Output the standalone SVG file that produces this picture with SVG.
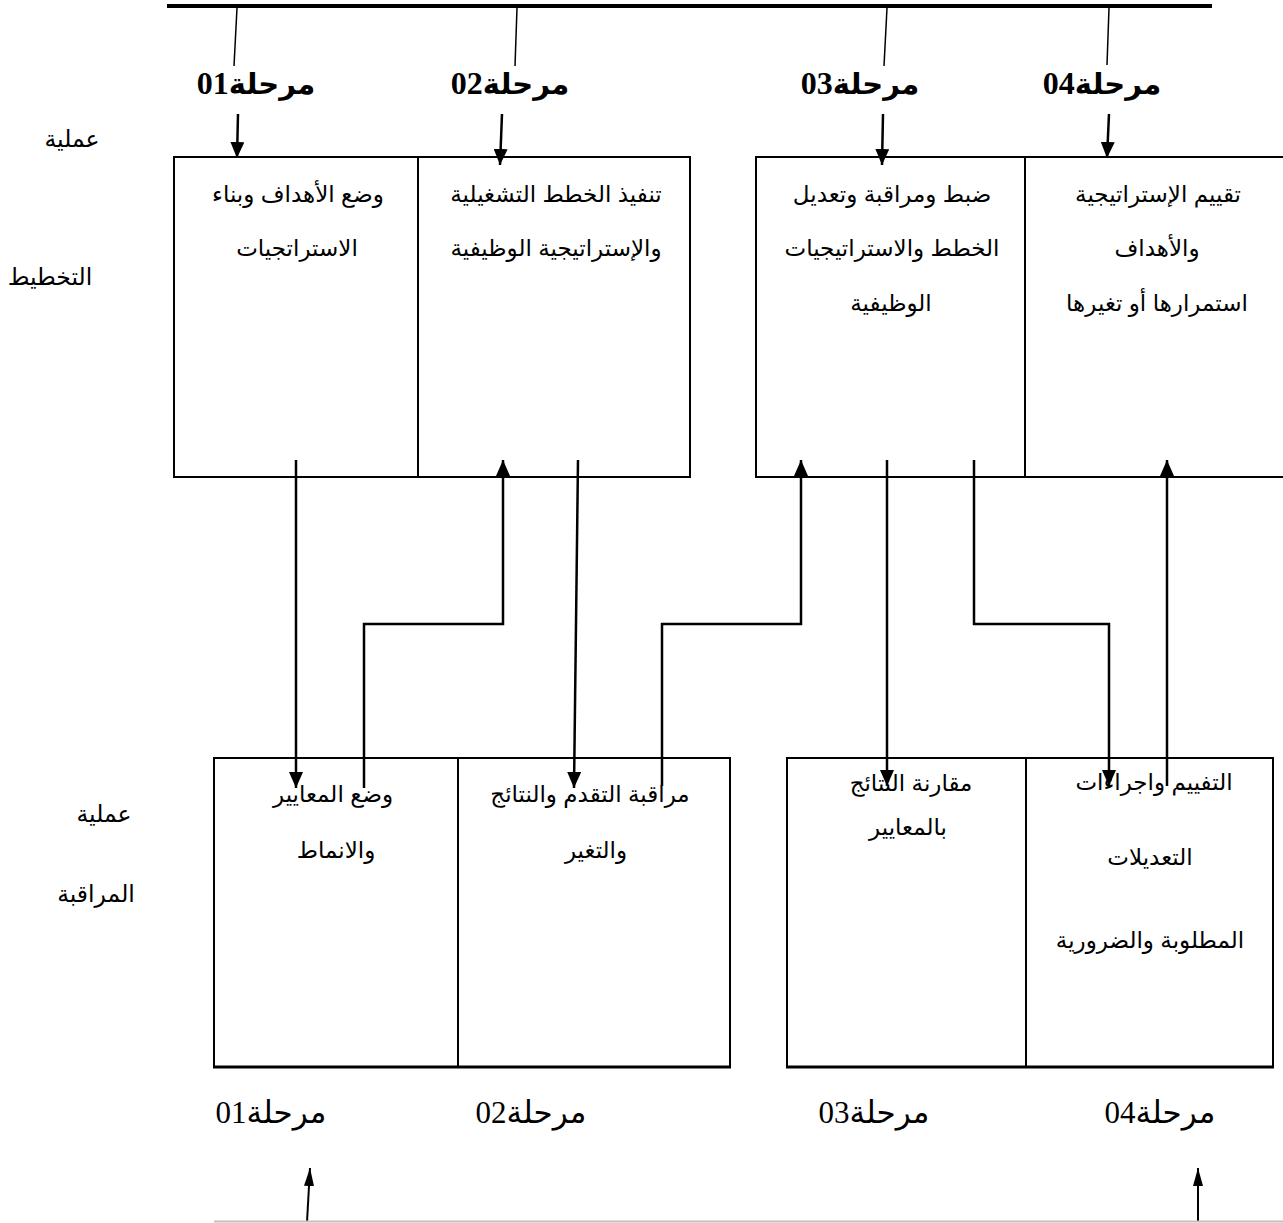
<svg xmlns="http://www.w3.org/2000/svg" width="1283" height="1223" viewBox="0 0 1283 1223">
  <defs>
    <marker id="ah" markerUnits="userSpaceOnUse" markerWidth="16" markerHeight="14" viewBox="0 0 16 14" refX="16" refY="7" orient="auto">
      <path d="M0,0 L16,7 L0,14 z" fill="#000"/>
    </marker>
    <marker id="ahs" markerUnits="userSpaceOnUse" markerWidth="18" markerHeight="10" viewBox="0 0 18 10" refX="18" refY="5" orient="auto">
      <path d="M0,0 L18,5 L0,10 z" fill="#000"/>
    </marker>
    <style>
      .box{fill:#fff;stroke:#000;stroke-width:2}
      .base{fill:none;stroke:#000;stroke-width:3}
      .wire{fill:none;stroke:#000;stroke-width:2.5}
      .tick{fill:none;stroke:#000;stroke-width:1.5}
      .t{font-family:"Liberation Sans","DejaVu Sans",sans-serif;font-size:23px;text-anchor:middle;fill:#000}
      .side{font-family:"Liberation Serif","DejaVu Sans",serif;font-size:23.5px;text-anchor:middle;fill:#000}
      .stage{font-family:"Liberation Serif","DejaVu Sans",serif;font-size:32px;font-weight:bold;text-anchor:middle;fill:#000}
      .stage .ar{font-size:29px}
      .stage2{font-family:"Liberation Serif","DejaVu Sans",serif;font-size:31px;text-anchor:middle;fill:#000}
    </style>
  </defs>

  <!-- top bar and stage ticks -->
  <g id="top-bar">
    <line x1="167" y1="6" x2="1212" y2="6" stroke="#000" stroke-width="4"/>
    <line class="tick" x1="237" y1="8" x2="234" y2="66"/>
    <line class="tick" x1="517" y1="8" x2="515" y2="66"/>
    <line class="tick" x1="887" y1="8" x2="884" y2="66"/>
    <line class="tick" x1="1109" y1="8" x2="1107" y2="65"/>
  </g>

  <!-- stage labels, top -->
  <g id="stage-labels-top">
    <text class="stage" x="256" y="94"><tspan class="ar">مرحلة</tspan>01</text>
    <text class="stage" x="510" y="94"><tspan class="ar">مرحلة</tspan>02</text>
    <text class="stage" x="860" y="94"><tspan class="ar">مرحلة</tspan>03</text>
    <text class="stage" x="1102" y="94"><tspan class="ar">مرحلة</tspan>04</text>
  </g>

  <!-- side captions -->
  <g id="caption-planning">
    <text class="side" x="72" y="147">عملية</text>
    <text class="side" x="50" y="285">التخطيط</text>
  </g>
  <g id="caption-control">
    <text class="side" x="104" y="822">عملية</text>
    <text class="side" x="96" y="902">المراقبة</text>
  </g>

  <!-- planning boxes -->
  <g id="plan-01">
    <rect class="box" x="174" y="157" width="244" height="320"/>
    <text class="t" x="298" y="202">وضع الأهداف وبناء</text>
    <text class="t" x="297" y="256">الاستراتجيات</text>
  </g>
  <g id="plan-02">
    <rect class="box" x="418" y="157" width="272" height="320"/>
    <text class="t" x="556" y="202">تنفيذ الخطط التشغيلية</text>
    <text class="t" x="556" y="256">والإستراتيجية الوظيفية</text>
  </g>
  <g id="plan-03">
    <rect class="box" x="756" y="157" width="269" height="320"/>
    <text class="t" x="892" y="202">ضبط ومراقبة وتعديل</text>
    <text class="t" x="892" y="256">الخطط والاستراتيجيات</text>
    <text class="t" x="891" y="311">الوظيفية</text>
  </g>
  <g id="plan-04">
    <rect class="box" x="1025" y="157" width="270" height="320"/>
    <text class="t" x="1158" y="202">تقييم الإستراتيجية</text>
    <text class="t" x="1157" y="256">والأهداف</text>
    <text class="t" x="1157" y="311">استمرارها أو تغيرها</text>
  </g>

  <!-- control boxes -->
  <g id="ctrl-01">
    <rect class="box" x="214" y="758" width="244" height="309"/>
    <text class="t" x="333" y="802">وضع المعايير</text>
    <text class="t" x="336" y="858">والانماط</text>
  </g>
  <g id="ctrl-02">
    <rect class="box" x="458" y="758" width="272" height="309"/>
    <text class="t" x="590" y="802">مراقبة التقدم والنتائج</text>
    <text class="t" x="596" y="858">والتغير</text>
  </g>
  <g id="ctrl-03">
    <rect class="box" x="787" y="758" width="239" height="309"/>
    <text class="t" x="911" y="791">مقارنة النتائج</text>
    <text class="t" x="908" y="835">بالمعايير</text>
  </g>
  <g id="ctrl-04">
    <rect class="box" x="1026" y="758" width="247" height="309"/>
    <text class="t" x="1154" y="790">التفييم واجراءات</text>
    <text class="t" x="1150" y="865">التعديلات</text>
    <text class="t" x="1150" y="948">المطلوبة والضرورية</text>
  </g>
  <!-- heavier base edge under the control boxes -->
  <line class="base" x1="213" y1="1067" x2="731" y2="1067"/>
  <line class="base" x1="786" y1="1067" x2="1274" y2="1067"/>

  <!-- stage labels, bottom -->
  <g id="stage-labels-bottom">
    <text class="stage2" x="271" y="1123">مرحلة01</text>
    <text class="stage2" x="531" y="1123">مرحلة02</text>
    <text class="stage2" x="874" y="1123">مرحلة03</text>
    <text class="stage2" x="1160" y="1123">مرحلة04</text>
  </g>

  <!-- connectors -->
  <g id="connectors">
    <line class="wire" x1="238" y1="114" x2="237" y2="158" marker-end="url(#ah)"/>
    <line class="wire" x1="502" y1="114" x2="500" y2="165" marker-end="url(#ah)"/>
    <line class="wire" x1="883" y1="114" x2="882" y2="165" marker-end="url(#ah)"/>
    <line class="wire" x1="1109" y1="114" x2="1107" y2="158" marker-end="url(#ah)"/>

    <path class="wire" d="M296,460 V788" marker-end="url(#ah)"/>
    <path class="wire" d="M364,788 V624 H503 V460" marker-end="url(#ah)"/>
    <path class="wire" d="M578,460 L574,788" marker-end="url(#ah)"/>
    <path class="wire" d="M662,786 V624 H801 V460" marker-end="url(#ah)"/>
    <path class="wire" d="M887,460 V786" marker-end="url(#ah)"/>
    <path class="wire" d="M974,460 V624 H1109 V786" marker-end="url(#ah)"/>
    <path class="wire" d="M1167,786 V460" marker-end="url(#ah)"/>

    <line x1="307" y1="1222" x2="310" y2="1168" stroke="#000" stroke-width="2" marker-end="url(#ahs)"/>
    <line x1="1198" y1="1222" x2="1198" y2="1168" stroke="#000" stroke-width="2" marker-end="url(#ahs)"/>
  </g>

  <!-- bottom rule -->
  <line id="bottom-rule" x1="214" y1="1221.5" x2="1283" y2="1221.5" stroke="#c0c0c0" stroke-width="2"/>
</svg>
